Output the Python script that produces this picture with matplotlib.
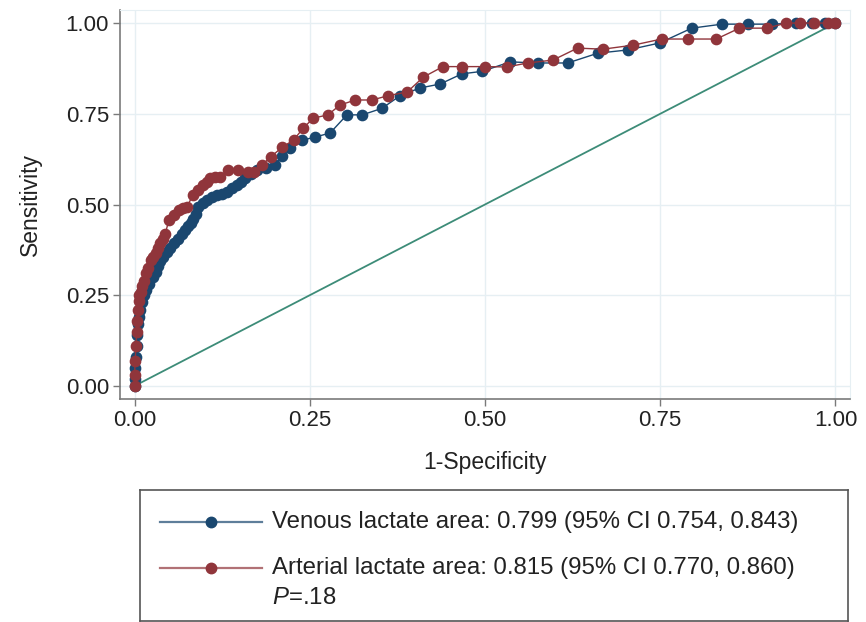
import matplotlib
matplotlib.use("Agg")
import matplotlib.pyplot as plt
from matplotlib.lines import Line2D

plt.rcParams['font.family'] = ['Liberation Sans', 'DejaVu Sans']
plt.rcParams['mathtext.fontset'] = 'custom'
plt.rcParams['mathtext.it'] = 'Liberation Sans:italic'
plt.rcParams['mathtext.rm'] = 'Liberation Sans'

# ROC points
venous_x = [0, 0, 0.001, 0.002, 0.003, 0.004, 0.005, 0.006, 0.008, 0.010,
            0.013, 0.017, 0.021, 0.026, 0.030, 0.033, 0.037, 0.041, 0.046, 0.051,
            0.056, 0.062, 0.068, 0.072, 0.076, 0.080, 0.084, 0.088, 0.091, 0.097,
            0.104, 0.111, 0.118, 0.125, 0.132, 0.139, 0.146, 0.152, 0.158, 0.166,
            0.175, 0.187, 0.200, 0.211, 0.222, 0.239, 0.258, 0.279, 0.303, 0.325,
            0.353, 0.379, 0.407, 0.436, 0.467, 0.496, 0.536, 0.575, 0.618, 0.661,
            0.704, 0.749, 0.795, 0.838, 0.875, 0.910, 0.944, 0.967, 0.985, 1.0]
venous_y = [0, 0.02, 0.05, 0.08, 0.11, 0.14, 0.17, 0.19, 0.21, 0.23,
            0.25, 0.265, 0.28, 0.30, 0.315, 0.33, 0.345, 0.355, 0.37, 0.38,
            0.394, 0.405, 0.42, 0.43, 0.44, 0.449, 0.46, 0.475, 0.493, 0.503,
            0.512, 0.52, 0.526, 0.53, 0.535, 0.545, 0.554, 0.563, 0.573, 0.583,
            0.595, 0.60, 0.609, 0.635, 0.655, 0.677, 0.686, 0.697, 0.747, 0.747,
            0.765, 0.80, 0.821, 0.832, 0.860, 0.867, 0.893, 0.89, 0.89, 0.917,
            0.926, 0.945, 0.986, 0.997, 0.997, 0.997, 1.0, 1.0, 1.0, 1.0]

arterial_x = [0, 0, 0.001, 0.002, 0.003, 0.004, 0.005, 0.006, 0.007, 0.009,
              0.011, 0.013, 0.016, 0.019, 0.023, 0.027, 0.030, 0.034, 0.037, 0.041,
              0.044, 0.049, 0.056, 0.063, 0.069, 0.075, 0.083, 0.090, 0.097, 0.103,
              0.108, 0.115, 0.122, 0.134, 0.148, 0.162, 0.170, 0.182, 0.194, 0.211,
              0.227, 0.241, 0.255, 0.276, 0.293, 0.315, 0.339, 0.362, 0.389, 0.412,
              0.440, 0.467, 0.500, 0.531, 0.561, 0.597, 0.632, 0.668, 0.711, 0.752,
              0.789, 0.830, 0.863, 0.902, 0.930, 0.950, 0.970, 0.990, 1.0]
arterial_y = [0, 0.03, 0.07, 0.11, 0.15, 0.18, 0.21, 0.235, 0.25, 0.26,
              0.275, 0.29, 0.31, 0.325, 0.347, 0.356, 0.366, 0.38, 0.394, 0.405,
              0.42, 0.457, 0.47, 0.485, 0.49, 0.493, 0.526, 0.54, 0.554, 0.563,
              0.573, 0.575, 0.576, 0.595, 0.595, 0.59, 0.59, 0.609, 0.631, 0.658,
              0.678, 0.711, 0.738, 0.747, 0.774, 0.788, 0.788, 0.80, 0.81, 0.851,
              0.88, 0.88, 0.88, 0.879, 0.89, 0.898, 0.931, 0.928, 0.939, 0.956,
              0.956, 0.956, 0.986, 0.986, 1.0, 1.0, 1.0, 1.0, 1.0]

ref_x = [0, 1]
ref_y = [0, 1]
ticks = [0.0, 0.25, 0.5, 0.75, 1.0]
tick_labels = ["0.00", "0.25", "0.50", "0.75", "1.00"]

labels = ["Venous lactate area: 0.799 (95% CI 0.754, 0.843)",
          "Arterial lactate area: 0.815 (95% CI 0.770, 0.860)"]
p_text = r"$\mathit{P}$=.18"

BLUE = "#1a476f"
RED = "#90353b"
GREEN = "#3d8c78"
TXT = "#222222"
AX = "#7a7a7a"
GRID = "#e6eff3"

W, H = 866, 622
fig = plt.figure(figsize=(W / 100, H / 100), dpi=100)

ax = fig.add_axes([120 / W, 1 - 399 / H, 730 / W, 389 / H])
ax.plot(venous_x, venous_y, color=BLUE, lw=1.0, marker='o', ms=7.4,
        mec=BLUE, mfc=BLUE, zorder=3)
ax.plot(arterial_x, arterial_y, color=RED, lw=1.0, marker='o', ms=7.4,
        mec=RED, mfc=RED, zorder=4)
ax.plot(ref_x, ref_y, color=GREEN, lw=1.3, zorder=2)

ax.set_xlim(-0.0207, 1.0207)
ax.set_ylim(-0.036, 1.036)
ax.set_xticks(ticks)
ax.set_xticklabels(tick_labels)
ax.set_yticks(ticks)
ax.set_yticklabels(tick_labels)
ax.grid(True, color=GRID, lw=1.0)
ax.set_axisbelow(True)
for s in ['top', 'right']:
    ax.spines[s].set_color(GRID)
    ax.spines[s].set_linewidth(0.8)
for s in ['left', 'bottom']:
    ax.spines[s].set_color(AX)
    ax.spines[s].set_linewidth(1.2)
ax.tick_params(axis='both', colors=AX, labelcolor=TXT, labelsize=16,
               length=5, width=1.0, direction='out', pad=3)
ax.set_xlabel("1-Specificity", fontsize=16.5, color=TXT, labelpad=14)
ax.set_ylabel("Sensitivity", fontsize=16.5, color=TXT, labelpad=17)

# legend box
lg = fig.add_axes([140 / W, 1 - 621 / H, 708 / W, 131 / H])
lg.set_xlim(0, 708)
lg.set_ylim(131, 0)
lg.set_xticks([])
lg.set_yticks([])
for s in lg.spines.values():
    s.set_color("#555555")
    s.set_linewidth(1.2)

rows = [32, 78]
for (lab, col, yy) in zip(labels, [BLUE, RED], rows):
    lg.add_line(Line2D([20, 122], [yy, yy], color=col, lw=1.6, alpha=0.7))
    lg.add_line(Line2D([71], [yy], color=col, marker='o', ms=7.5, lw=0))
    lg.text(132, yy, lab, fontsize=17.3, color=TXT, va='center', ha='left')
lg.text(132, 108, p_text, fontsize=17.3, color=TXT, va='center', ha='left')

fig.savefig("out.png", dpi=100)
